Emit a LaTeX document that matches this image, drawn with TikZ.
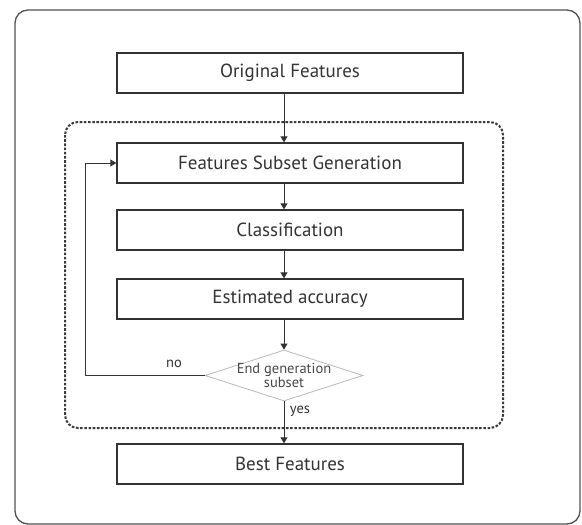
\documentclass[tikz,border=0pt]{standalone}
\usepackage{fontspec}
\setmainfont{PT Sans}
\usetikzlibrary{shapes.geometric,arrows.meta}
\definecolor{ink}{HTML}{333333}
\definecolor{dashink}{HTML}{3A3A3A}
\definecolor{diamink}{HTML}{B8B8B8}
\begin{document}
\begin{tikzpicture}[x=1pt,y=-1pt,
  stepbox/.style={draw=ink,line width=1.3pt,minimum width=346pt,minimum height=40pt,inner sep=0pt,
    font=\fontsize{19}{21}\selectfont,text=ink},
  conn/.style={draw=ink,line width=1pt,-{Triangle[length=6pt,width=7pt]}},
  lbl/.style={font=\fontsize{14.5}{16}\selectfont,text=ink}]
\useasboundingbox (0,0) rectangle (582,525);
\draw[draw=ink!85,line width=1.3pt,rounded corners=13pt] (15,10) rectangle (580,524);
\draw[draw=dashink,line width=2pt,dash pattern=on 2.6pt off 1.6pt,rounded corners=13pt] (65,122) rectangle (503,428);
\node[stepbox] (orig) at (290,73) {Original Features};
\node[stepbox] (fsg) at (290,163) {Features Subset Generation};
\node[stepbox] (cls) at (290,230) {Classification};
\node[stepbox] (est) at (290,299) {Estimated accuracy};
\node[stepbox] (best) at (290,464) {Best Features};
\node[diamond,draw=diamink,line width=0.8pt,minimum width=158pt,minimum height=51pt,inner sep=0pt] (dec) at (284,375.5) {};
\node[lbl,align=center,text=ink!90] (dectext) at (dec.center) {End generation\\[-2pt]subset};
\coordinate (loopc) at (85,375.5);
\draw[conn] (orig.south -| dec) -- (fsg.north -| dec);
\draw[conn] (fsg.south -| dec) -- (cls.north -| dec);
\draw[conn] (cls.south -| dec) -- (est.north -| dec);
\draw[conn] (est.south -| dec) -- (dec.north);
\draw[conn] (dec.west) -- (loopc) |- (fsg.west);
\draw[conn] (dec.south) -- (dec.south |- best.north);
\node[lbl] (nolbl) at (174,364) {no};
\node[lbl] (yeslbl) at (300,411) {yes};
\end{tikzpicture}
\end{document}
